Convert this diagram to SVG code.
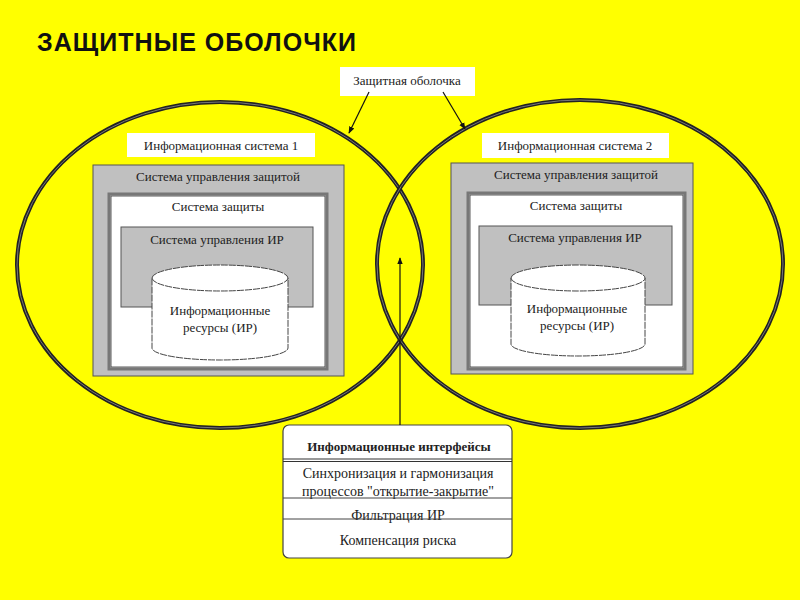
<svg xmlns="http://www.w3.org/2000/svg" width="800" height="600" viewBox="0 0 800 600">
<defs>
<marker id="ah" viewBox="0 0 10 10" refX="9" refY="5" markerWidth="7" markerHeight="7" orient="auto" markerUnits="userSpaceOnUse">
<path d="M0,1 L10,5 L0,9 z" fill="#111"/>
</marker>
</defs>
<style>
.t{font-family:"Liberation Serif","DejaVu Serif",serif;font-size:13px;fill:#222;text-anchor:middle}
.m{font-size:14px}
.b{font-weight:bold}
.lbl{fill:#fff;stroke:none}
.g{fill:#c0c0c0;stroke:#555;stroke-width:1}
.w{fill:#fff;stroke:#777;stroke-width:3}
.wi{fill:none;stroke:#333;stroke-width:0.8}
.shell{fill:none;stroke:#222;stroke-width:4}
.shell2{fill:none;stroke:#777;stroke-width:1}
.cyl{fill:#fff;stroke:#444;stroke-width:1;stroke-dasharray:7 1}
.ln{stroke:#111;stroke-width:1.2;fill:none}
</style>
<rect width="800" height="600" fill="#ffff00"/>
<text x="37" y="51" font-family="Liberation Sans,Arial,sans-serif" font-weight="bold" font-size="25" fill="#111" textLength="319">ЗАЩИТНЫЕ ОБОЛОЧКИ</text>

<g id="shells">
<ellipse class="shell" cx="220" cy="265" rx="203" ry="163"/>
<ellipse class="shell2" cx="220" cy="265" rx="203" ry="163"/>
<ellipse class="shell" cx="580" cy="264" rx="203" ry="164"/>
<ellipse class="shell2" cx="580" cy="264" rx="203" ry="164"/>
</g>

<g id="shell-label">
<rect class="lbl" x="340" y="67" width="135" height="29"/>
<text class="t" x="407" y="85" font-size="12">Защитная оболочка</text>
</g>

<g id="is1">
<rect class="lbl" x="127" y="133" width="188" height="24"/>
<text class="t" x="221" y="150">Информационная система 1</text>
<rect class="g" x="93" y="165" width="251" height="211"/>
<text class="t" x="218" y="181">Система управления защитой</text>
<rect class="w" x="109" y="194" width="218" height="175"/>
<rect class="wi" x="111" y="196" width="214" height="171"/>
<text class="t" x="218" y="211">Система защиты</text>
<rect class="g" x="121" y="227" width="192" height="80"/>
<text class="t" x="217" y="244">Система управления ИР</text>
<path class="cyl" d="M152,278 A68,13 0 0 1 288,278 L288,348 A68,12 0 0 1 152,348 Z"/>
<path class="cyl" fill="none" d="M152,278 A68,13 0 0 0 288,278"/>
<text class="t" x="220" y="315">Информационные</text>
<text class="t" x="220" y="332">ресурсы (ИР)</text>
</g>

<g id="is2">
<rect class="lbl" x="482" y="133" width="187" height="25"/>
<text class="t" x="575" y="150">Информационная система 2</text>
<rect class="g" x="451" y="163" width="242" height="211"/>
<text class="t" x="576" y="179">Система управления защитой</text>
<rect class="w" x="468" y="193" width="217" height="176"/>
<rect class="wi" x="470" y="195" width="213" height="172"/>
<text class="t" x="576" y="210">Система защиты</text>
<rect class="g" x="479" y="226" width="193" height="79"/>
<text class="t" x="575" y="242">Система управления ИР</text>
<path class="cyl" d="M511,278 A67,13 0 0 1 645,278 L645,344 A67,12 0 0 1 511,344 Z"/>
<path class="cyl" fill="none" d="M511,278 A67,13 0 0 0 645,278"/>
<text class="t" x="577" y="313">Информационные</text>
<text class="t" x="577" y="330">ресурсы (ИР)</text>
</g>

<g id="interfaces">
<rect x="283" y="425" width="229" height="133" rx="6" fill="#fff" stroke="#444" stroke-width="1.2"/>
<text class="t b" x="399" y="451" font-size="12.8">Информационные интерфейсы</text>
<line x1="283" y1="459" x2="512" y2="459" stroke="#333" stroke-width="1.2"/>
<line x1="283" y1="461.5" x2="512" y2="461.5" stroke="#333" stroke-width="1.2"/>
<text class="t m" x="398" y="478">Синхронизация и гармонизация</text>
<text class="t m" x="398" y="496">процессов "открытие-закрытие"</text>
<line x1="283" y1="498" x2="512" y2="498" stroke="#444" stroke-width="1"/>
<text class="t m" x="398" y="520">Фильтрация ИР</text>
<line x1="283" y1="519" x2="512" y2="519" stroke="#444" stroke-width="1"/>
<text class="t m" x="398" y="545">Компенсация риска</text>
</g>

<g id="connectors">
<line class="ln" x1="369" y1="92" x2="349" y2="133" marker-end="url(#ah)"/>
<line class="ln" x1="443" y1="92" x2="465" y2="129" marker-end="url(#ah)"/>
<line class="ln" x1="400" y1="425" x2="400" y2="258" marker-end="url(#ah)"/>
</g>
</svg>
